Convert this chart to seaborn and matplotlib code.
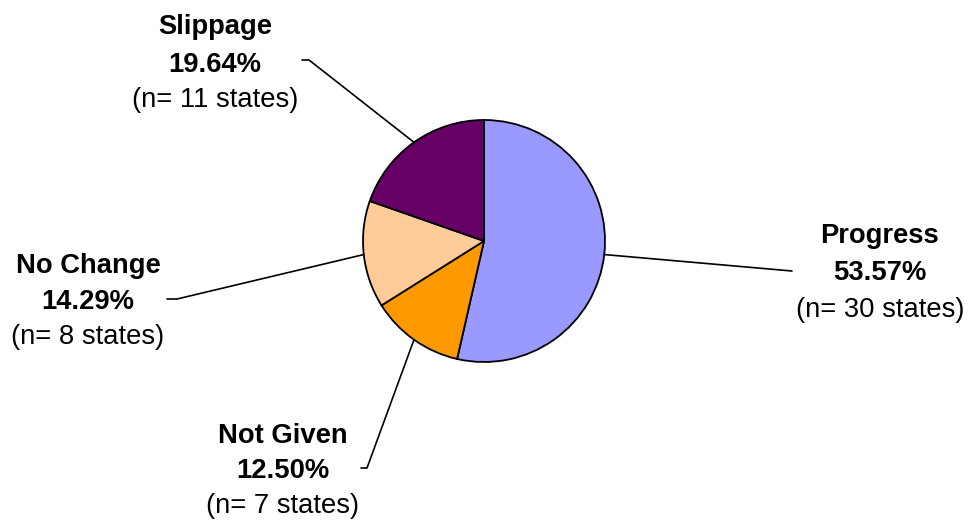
import numpy as np
import matplotlib
matplotlib.use('Agg')
import matplotlib.pyplot as plt
import seaborn as sns

# data (clockwise from 12 o'clock)
categories = ['Progress', 'Not Given', 'No Change', 'Slippage']
percents = ['53.57%', '12.50%', '14.29%', '19.64%']
n_states = [30, 7, 8, 11]
colors = ['#9999FF', '#FF9900', '#FFCC99', '#660066']

# label layout in pixel coords (y down): text centre x, baselines, leader end
label_x = [880, 283, 88, 215]
label_base = [(243, 280, 317), (443, 478, 513), (273, 309, 344), (34, 72, 107)]
leader_end = [(792, 271), (367, 468), (177, 299), (309, 60)]
leader_tail = [(792, 271), (361, 468), (167, 299), (302, 60)]

W, H = 968, 520
sns.set_theme(style='white')
plt.rcParams['font.family'] = ['Liberation Sans', 'DejaVu Sans']

fig = plt.figure(figsize=(W / 100, H / 100), dpi=100)
ax = fig.add_axes([0, 0, 1, 1])

cx, cy, r = 484, H - 241, 121
wedges, _ = ax.pie(n_states, colors=sns.color_palette(colors), startangle=90,
                   counterclock=False, center=(cx, cy), radius=r,
                   wedgeprops=dict(edgecolor='black', linewidth=1.3))
ax.set_xlim(0, W)
ax.set_ylim(0, H)
ax.set_aspect('equal')
ax.axis('off')

fs = 19.7
for i, w in enumerate(wedges):
    mid = np.deg2rad((w.theta1 + w.theta2) / 2)
    px, py = cx + r * np.cos(mid), cy + r * np.sin(mid)
    ex, ey = leader_end[i]
    tx, ty = leader_tail[i]
    ax.plot([px, ex, tx], [py, H - ey, H - ty], color='black', lw=1.2)
    b = label_base[i]
    ax.text(label_x[i], H - b[0], categories[i], ha='center', va='baseline',
            fontsize=fs, fontweight='bold', color='black')
    ax.text(label_x[i], H - b[1], percents[i], ha='center', va='baseline',
            fontsize=fs, fontweight='bold', color='black')
    ax.text(label_x[i], H - b[2], f'(n= {n_states[i]} states)', ha='center',
            va='baseline', fontsize=fs, color='black')

fig.savefig('out.png', dpi=100, facecolor='white')
